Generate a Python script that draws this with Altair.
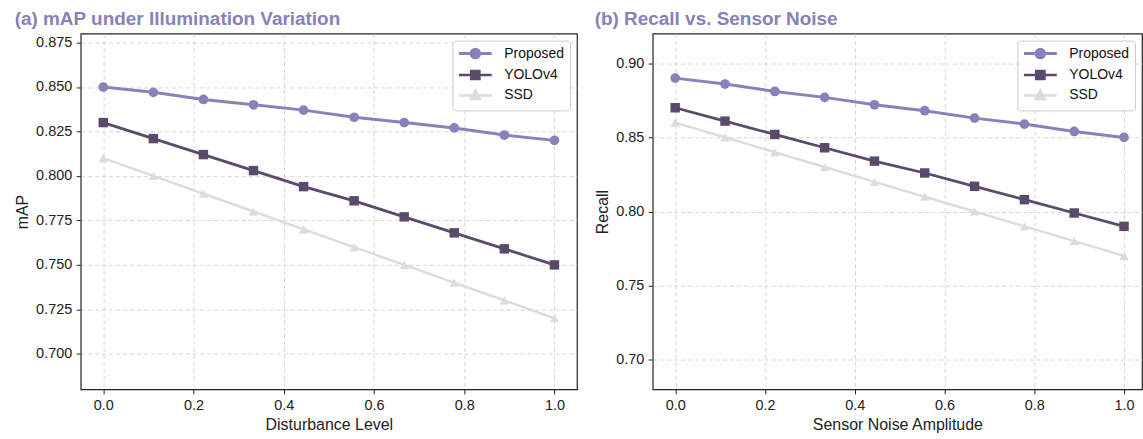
import altair as alt
import pandas as pd

# ---------------- data ----------------
x_vals = [0.0, 0.111, 0.222, 0.333, 0.444, 0.556, 0.667, 0.778, 0.889, 1.0]
series = ["Proposed", "YOLOv4", "SSD"]

a_proposed = [0.850, 0.847, 0.843, 0.840, 0.837, 0.833, 0.830, 0.827, 0.823, 0.820]
a_yolov4 = [0.830, 0.821, 0.812, 0.803, 0.794, 0.786, 0.777, 0.768, 0.759, 0.750]
a_ssd = [0.810, 0.800, 0.790, 0.780, 0.770, 0.760, 0.750, 0.740, 0.730, 0.720]

b_proposed = [0.890, 0.886, 0.881, 0.877, 0.872, 0.868, 0.863, 0.859, 0.854, 0.850]
b_yolov4 = [0.870, 0.861, 0.852, 0.843, 0.834, 0.826, 0.817, 0.808, 0.799, 0.790]
b_ssd = [0.860, 0.850, 0.840, 0.830, 0.820, 0.810, 0.800, 0.790, 0.780, 0.770]

x_ticks = [0.0, 0.2, 0.4, 0.6, 0.8, 1.0]
a_y_ticks = [0.700, 0.725, 0.750, 0.775, 0.800, 0.825, 0.850, 0.875]
b_y_ticks = [0.70, 0.75, 0.80, 0.85, 0.90]

# ---------------- style ----------------
colors = ["#8b80ba", "#5b4a6b", "#dcdcdc"]
widths = [3.0, 2.5, 2.5]
shapes = ["circle", "square", "triangle-up"]
sizes = [95, 90, 90]
legend_shapes = [
    "M-3.3,0H3.3M-0.85,0A0.85,0.85,0,1,1,0.85,0A0.85,0.85,0,1,1,-0.85,0Z",
    "M-3.3,0H3.3M-0.8,-0.8H0.8V0.8H-0.8Z",
    "M-3.3,0H3.3M0,-0.95L0.9,0.7H-0.9Z",
]
FONT = "Liberation Sans"
TITLE_COLOR = "#8b80ba"


def make_df(vals_by_series):
    rows = []
    for s, vals in zip(series, vals_by_series):
        for x, v in zip(x_vals, vals):
            rows.append({"x": x, "y": v, "model": s})
    return pd.DataFrame(rows)


def panel(df, title, xtitle, ytitle, xdomain, ydomain, yticks, yfmt, width):
    x = alt.X("x:Q", title=xtitle,
              scale=alt.Scale(domain=xdomain, nice=False, zero=False),
              axis=alt.Axis(values=x_ticks, format=".1f"))
    y = alt.Y("y:Q", title=ytitle,
              scale=alt.Scale(domain=ydomain, nice=False, zero=False),
              axis=alt.Axis(values=yticks, format=yfmt))
    cscale = alt.Scale(domain=series, range=colors)
    base = alt.Chart(df)
    leg = alt.Legend(
        title=None, orient="top-right", offset=7,
        strokeColor="#cccccc", fillColor="white", cornerRadius=3, padding=6,
        labelFont=FONT, labelFontSize=14, labelColor="#111111",
        symbolSize=100, symbolStrokeWidth=2.5, symbolOpacity=1,
        symbolOffset=10, labelOffset=22, rowPadding=0.5,
    )
    legend_layer = base.mark_point(filled=True, opacity=0).encode(
        x=x, y=y,
        color=alt.Color("model:N", scale=cscale, legend=leg),
        stroke=alt.Stroke("model:N", scale=cscale, legend=leg),
        shape=alt.Shape("model:N", scale=alt.Scale(domain=series, range=legend_shapes), legend=leg),
    )
    lines = base.mark_line().encode(
        x=x, y=y,
        color=alt.Color("model:N", scale=cscale),
        strokeWidth=alt.StrokeWidth("model:N", scale=alt.Scale(domain=series, range=widths), legend=None),
    )
    layers = [legend_layer, lines]
    for s, shp, sz in zip(series, shapes, sizes):
        layers.append(
            base.transform_filter(alt.datum.model == s)
            .mark_point(filled=True, opacity=1, shape=shp, size=sz)
            .encode(x=x, y=y, color=alt.Color("model:N", scale=cscale))
        )
    return alt.layer(*layers).properties(
        width=width, height=357,
        title=alt.TitleParams(title, anchor="start", font=FONT, fontSize=19,
                              fontWeight="bold", color=TITLE_COLOR, offset=5),
    )


pa = panel(make_df([a_proposed, a_yolov4, a_ssd]),
           "(a) mAP under Illumination Variation", "Disturbance Level", "mAP",
           [-0.05, 1.05], [0.68, 0.88], a_y_ticks, ".3f", 498)
pb = panel(make_df([b_proposed, b_yolov4, b_ssd]),
           "(b) Recall vs. Sensor Noise", "Sensor Noise Amplitude", "Recall",
           [-0.05, 1.04], [0.68, 0.92], b_y_ticks, ".2f", 491)

chart = alt.hconcat(pa, pb, spacing=16).resolve_scale(
    color="independent", shape="independent",
    stroke="independent", strokeWidth="independent",
).properties(
    padding={"left": 14, "top": 8, "right": 0, "bottom": 0},
).configure_view(
    stroke="#222222", strokeWidth=1.2,
).configure_axis(
    labelFont=FONT, titleFont=FONT, labelFontSize=14.5, titleFontSize=16,
    titleFontWeight="normal", labelColor="#222222", titleColor="#222222",
    domain=False, tickColor="#222222", tickSize=4.5, tickWidth=1,
    grid=True, gridColor="#cccccc", gridDash=[4, 3], gridWidth=0.8,
    labelPadding=4.5, titlePadding=5,
)

chart.save("out.html", embed_options={"renderer": "svg", "actions": False})
